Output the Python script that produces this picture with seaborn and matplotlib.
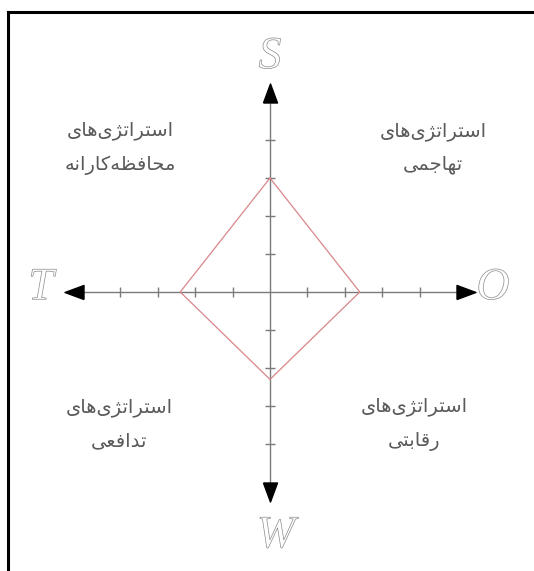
import matplotlib
matplotlib.use("Agg")
import matplotlib.pyplot as plt
import matplotlib.patheffects as pe
import seaborn as sns
import pandas as pd

# SWOT scores (axis ends)
axes_labels = ["S", "O", "W", "T"]
scores = [3.0, 2.4, 2.3, 2.4]
tick_values = [1, 2, 3, 4]

# quadrant strategy labels
quadrants = {
    "UL": "استراتژی‌های\nمحافظه‌کارانه",
    "UR": "استراتژی‌های\nتهاجمی",
    "LL": "استراتژی‌های\nتدافعی",
    "LR": "استراتژی‌های\nرقابتی",
}

# --- minimal Arabic/Persian shaping (matplotlib does no shaping / RTL) ---
FORMS = {
    "ا": ("\uFE8D", "\uFE8E", None, None),
    "ب": ("\uFE8F", "\uFE90", "\uFE91", "\uFE92"),
    "ت": ("\uFE95", "\uFE96", "\uFE97", "\uFE98"),
    "ج": ("\uFE9D", "\uFE9E", "\uFE9F", "\uFEA0"),
    "ح": ("\uFEA1", "\uFEA2", "\uFEA3", "\uFEA4"),
    "د": ("\uFEA9", "\uFEAA", None, None),
    "ر": ("\uFEAD", "\uFEAE", None, None),
    "ژ": ("\uFB8A", "\uFB8B", None, None),
    "س": ("\uFEB1", "\uFEB2", "\uFEB3", "\uFEB4"),
    "ظ": ("\uFEC5", "\uFEC6", "\uFEC7", "\uFEC8"),
    "ع": ("\uFEC9", "\uFECA", "\uFECB", "\uFECC"),
    "ف": ("\uFED1", "\uFED2", "\uFED3", "\uFED4"),
    "ق": ("\uFED5", "\uFED6", "\uFED7", "\uFED8"),
    "ک": ("\uFB8E", "\uFB8F", "\uFB90", "\uFB91"),
    "م": ("\uFEE1", "\uFEE2", "\uFEE3", "\uFEE4"),
    "ن": ("\uFEE5", "\uFEE6", "\uFEE7", "\uFEE8"),
    "ه": ("\uFEE9", "\uFEEA", "\uFEEB", "\uFEEC"),
    "ی": ("\uFBFC", "\uFBFD", "\uFBFE", "\uFBFF"),
}


def shape(line):
    out = []
    for i, ch in enumerate(line):
        if ch not in FORMS:
            if ch != "\u200c":
                out.append(ch)
            continue
        prev = line[i - 1] if i > 0 else ""
        nxt = line[i + 1] if i + 1 < len(line) else ""
        join_prev = prev in FORMS and FORMS[prev][2] is not None
        join_next = FORMS[ch][2] is not None and nxt in FORMS
        iso, fin, ini, med = FORMS[ch]
        if join_prev and join_next:
            out.append(med)
        elif join_prev:
            out.append(fin)
        elif join_next:
            out.append(ini)
        else:
            out.append(iso)
    return "".join(reversed(out))


def persian(text):
    return "\n".join(shape(l) for l in text.split("\n"))


sns.set_style("white")
plt.rcParams["font.family"] = ["DejaVu Sans"]

fig = plt.figure(figsize=(5.34, 5.71), dpi=100)
# axes placed so that only the top and left frame lines fall inside the picture
ax = fig.add_axes([8 / 534, -0.05, 1.0, 1 - 12 / 571 + 0.05])
ux, uy = 37.4, 38.0
x0 = (8 - 270) / ux
y1 = (292 - 12) / uy
ax.set_xlim(x0, x0 + 534 / ux)
ax.set_ylim(y1 - (571 - 12 + 0.05 * 571) / uy, y1)
for s in ["right", "bottom"]:
    ax.spines[s].set_visible(False)
for s in ["top", "left"]:
    ax.spines[s].set_color("black")
    ax.spines[s].set_linewidth(2.2)
ax.set_xticks([])
ax.set_yticks([])

# axis lines
axis_col = "#7a7a7a"
ax.plot([-5.0, 5.0], [0, 0], color=axis_col, lw=1)
ax.plot([0, 0], [-5.0, 5.0], color=axis_col, lw=1)

# tick marks
ticks = pd.DataFrame({"v": tick_values})
for sgn in (1, -1):
    ax.plot(sgn * ticks["v"], [0] * len(ticks), ls="none", marker="|",
            ms=7, mew=1, color=axis_col)
    ax.plot([0] * len(ticks), sgn * ticks["v"], ls="none", marker="_",
            ms=7, mew=1, color=axis_col)

# arrow heads
head = 5.25
up = [(-0.37, -0.5), (0.37, -0.5), (0, 0.5), (-0.37, -0.5)]
down = [(x, -y) for x, y in up]
right = [(y, x) for x, y in up]
left = [(-y, x) for x, y in up]
size = (19 * 0.72) ** 2
ax.scatter([0], [head], marker=up, s=size, color="black", zorder=5)
ax.scatter([0], [-head], marker=down, s=size, color="black", zorder=5)
ax.scatter([head], [0], marker=right, s=size, color="black", zorder=5)
ax.scatter([-head], [0], marker=left, s=size, color="black", zorder=5)

# SWOT diamond
s_val, o_val, w_val, t_val = scores
diamond = pd.DataFrame({
    "x": [0, o_val, 0, -t_val, 0],
    "y": [s_val, 0, -w_val, 0, s_val],
})
sns.lineplot(data=diamond, x="x", y="y", sort=False, estimator=None,
             color="#d9868a", lw=0.9, ax=ax, zorder=4)
ax.set_xlabel("")
ax.set_ylabel("")

# letters S O W T (hollow italic serif)
hollow = [pe.PathPatchEffect(edgecolor="#8a8a8a", facecolor="white", linewidth=0.5)]
letter_kw = dict(fontsize=33, family="Liberation Serif", style="italic",
                 ha="center", va="center", path_effects=hollow)
ax.text(0, (292 - 57) / uy, axes_labels[0], **letter_kw)
ax.text((493 - 270) / ux, (292 - 288) / uy, axes_labels[1], **letter_kw)
ax.text((276 - 270) / ux, (292 - 536) / uy, axes_labels[2], **letter_kw)
ax.text((41 - 270) / ux, (292 - 288) / uy, axes_labels[3], **letter_kw)

# quadrant labels
q_kw = dict(fontsize=14, color="#5a5a5a", ha="center", va="center",
            linespacing=1.95)
ax.text((120 - 270) / ux, (292 - 148) / uy, persian(quadrants["UL"]), **q_kw)
ax.text((433 - 270) / ux, (292 - 148) / uy, persian(quadrants["UR"]), **q_kw)
ax.text((119 - 270) / ux, (292 - 424) / uy, persian(quadrants["LL"]), **q_kw)
ax.text((414 - 270) / ux, (292 - 424) / uy, persian(quadrants["LR"]), **q_kw)

fig.savefig("out.png", dpi=100, facecolor="white")
